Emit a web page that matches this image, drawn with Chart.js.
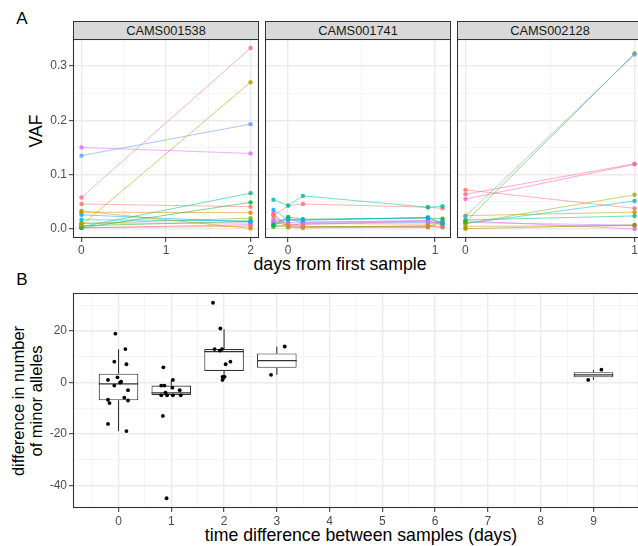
<!DOCTYPE html>
<html><head><meta charset="utf-8">
<script src="https://cdn.jsdelivr.net/npm/chart.js@4/dist/chart.umd.min.js"></script>
<style>
html,body{margin:0;padding:0;width:638px;height:546px;overflow:hidden;background:#fff;font-family:"Liberation Sans",Arial,sans-serif;}
body{position:relative;}
canvas{position:absolute;}
.t{position:absolute;white-space:nowrap;line-height:1;transform:translate(-50%,-50%);color:#000;}
.rot{transform:translate(-50%,-50%) rotate(-90deg);text-align:center;}
.strip{position:absolute;top:21px;height:19px;background:#D9D9D9;border:1px solid #333;box-sizing:border-box;font-size:12.8px;line-height:17px;text-align:center;color:#1a1a1a;}
</style></head>
<body>
<div class="t" style="left:22px;top:18px;font-size:17px;">A</div>
<div class="t" style="left:22px;top:279px;font-size:17px;">B</div>
<div class="t rot" style="left:37px;top:131px;font-size:17.5px;">VAF</div>
<div class="t" style="left:340px;top:265px;font-size:17.7px;">days from first sample</div>
<div class="t rot" style="left:27px;top:401px;font-size:16.5px;line-height:18px;">difference in number<br>of minor alleles</div>
<div class="t" style="left:361px;top:536px;font-size:17.7px;">time difference between samples (days)</div>

<div class="strip" id="s1" style="left:73px;width:186px;"></div>
<div class="strip" id="s2" style="left:265px;width:186px;"></div>
<div class="strip" id="s3" style="left:457px;width:186px;"></div>

<canvas id="a1" width="259" height="222" style="left:0px;top:39px;"></canvas>
<canvas id="a2" width="186" height="222" style="left:265px;top:39px;"></canvas>
<canvas id="a3" width="186" height="222" style="left:457px;top:39px;"></canvas>
<canvas id="b" width="639" height="240" style="left:0px;top:293px;"></canvas>

<script>
// ---------------- Panel A data ----------------
const facetNames = ["CAMS001538", "CAMS001741", "CAMS002128"];

const f1Days = [0, 2];
const f1Vaf = [
  [0.058, 0.333],
  [0.007, 0.270],
  [0.135, 0.193],
  [0.150, 0.139],
  [0.004, 0.066],
  [0.002, 0.049],
  [0.046, 0.041],
  [0.031, 0.030],
  [0.033, 0.001],
  [0.026, 0.013],
  [0.017, 0.015],
  [0.010, 0.020],
  [0.002, 0.008],
  [0.0024, 0.005],
  [0.0105, 0.011],
  [0.006, 0.014]
];
const f1Colors = ["#FF6C91","#ABA300","#619CFF","#E76BF3","#00C08B","#00BA38","#F8766D","#E18A00",
  "#BE9C00","#00B0F6","#00C1A7","#8CAB00","#FF62BC","#EF7F49","#B983FF","#24B700"];

const f2Days = [-0.1, 0, 0.1, 0.95, 1.05];
const f2Vaf = [
  [0.054, 0.043, 0.061, 0.040, 0.042],
  [0.025, 0.043, 0.046, 0.040, 0.038],
  [0.035, 0.017, 0.017, 0.021, 0.011],
  [0.008, 0.022, 0.018, 0.020, 0.019],
  [0.006, 0.018, 0.016, 0.021, 0.009],
  [0.012, 0.017, 0.013, 0.014, 0.011],
  [0.015, 0.019, 0.012, 0.016, 0.013],
  [0.020, 0.009, 0.008, 0.015, 0.008],
  [0.014, 0.006, 0.010, 0.009, 0.014],
  [0.026, 0.003, 0.002, 0.004, 0.004],
  [0.006, 0.004, 0.003, 0.006, 0.008],
  [0.004, 0.008, 0.005, 0.003, 0.015],
  [0.028, 0.004, 0.004, 0.005, 0.003],
  [0.010, 0.012, 0.011, 0.012, 0.010]
];
const f2Colors = ["#00C1A7","#F8766D","#00B0F6","#00BA38","#00BFC4","#B983FF","#E76BF3","#FF6C91",
  "#D39200","#EA8331","#93AA00","#5EB300","#FD61D1","#619CFF"];

const f3Days = [0, 1];
const f3Vaf = [
  [0.023, 0.321],
  [0.013, 0.323],
  [0.072, 0.038],
  [0.064, 0.120],
  [0.055, 0.119],
  [0.010, 0.063],
  [0.010, 0.0515],
  [0.0245, 0.031],
  [0.0166, 0.024],
  [0.0006, 0.0074],
  [0.015, 0.000],
  [0.012, 0.007],
  [0.005, 0.006]
];
const f3Colors = ["#619CFF","#39B600","#F8766D","#FF6C91","#FF61C3","#9BAF00","#00BCD8","#B5A000",
  "#00C08B","#9C8A00","#E76BF3","#B983FF","#D39200"];

const vafTicks = [0, 0.1, 0.2, 0.3];

// ---------------- Panel B data ----------------
const diffDays = [0, 1, 2, 3, 9];
const boxQ1  = [-6.9, -4.9, 4.5, 5.7, 2.0];
const boxMed = [-0.5, -4.0, 12.0, 8.5, 3.0];
const boxQ3  = [3.4, -1.2, 13.0, 11.3, 4.0];
const whiskLo = [-18.9, -5.0, 1.0, 3.0, 1.0];
const whiskHi = [12.9, 1.0, 20.7, 14.0, 5.0];

const ptsX = [
  -0.06, 0.13, -0.08, 0.15, -0.2, -0.02, 0.05, 0.03, -0.08, 0.18, 0.11, -0.2, -0.17, 0.18, -0.2, 0.15,
  0.85, 1.03, 0.81, 0.87, 1.02, 1.16, 0.89, 0.81, 0.92, 1.03, 1.18, 0.84, 0.91,
  1.79, 1.93, 1.82, 1.92, 1.96, 2.12, 2.03, 1.97, 2.01, 1.97,
  2.89, 3.15,
  8.9, 9.15
];
const ptsY = [
  19.0, 13.0, 8.1, 7.1, 1.0, 2.0, 0.3, 0.0, -1.2, -3.0, -5.9, -6.7, -8.0, -7.0, -16.1, -18.9,
  5.9, 1.0, -1.2, -1.2, -2.0, -3.0, -3.9, -5.0, -5.0, -5.0, -5.0, -13.0, -45.0,
  31.0, 21.0, 13.0, 12.4, 13.0, 8.1, 7.1, 2.2, 2.2, 1.0,
  3.0, 14.0,
  1.0, 5.0
];
const diffTicks = [-40, -20, 0, 20];

// ---------------- helpers ----------------
Chart.defaults.font.family = "'Liberation Sans', Arial, sans-serif";
Chart.defaults.animation = false;

function alpha(hex, a) {
  const n = parseInt(hex.slice(1), 16);
  return `rgba(${(n >> 16) & 255},${(n >> 8) & 255},${n & 255},${a})`;
}
const near = (v, step) => Math.abs(v / step - Math.round(v / step)) < 1e-6;

const frame = {
  id: 'frame',
  afterDatasetsDraw(chart) {
    const { ctx, chartArea: a } = chart;
    ctx.save();
    ctx.strokeStyle = '#333333';
    ctx.lineWidth = 1.1;
    ctx.strokeRect(Math.round(a.left) + 0.5, Math.round(a.top) + 0.5,
      Math.round(a.right - a.left) - 1, Math.round(a.bottom - a.top) - 1);
    ctx.restore();
  }
};

function gridCfg(majorStep, drawTicks) {
  return {
    color: c => (c.tick && near(c.tick.value, majorStep)) ? '#EBEBEB' : '#F3F3F3',
    lineWidth: c => (c.tick && near(c.tick.value, majorStep)) ? 1.4 : 0.9,
    tickColor: c => (c.tick && near(c.tick.value, majorStep)) ? '#333333' : 'rgba(0,0,0,0)',
    tickLength: 4,
    tickWidth: 1,
    drawTicks: drawTicks
  };
}

function facetChart(id, days, vafs, colors, xmin, xmax, showY) {
  const datasets = vafs.map((vals, i) => ({
    data: days.map((d, j) => ({ x: d, y: vals[j] })),
    borderColor: alpha(colors[i], 0.55),
    backgroundColor: alpha(colors[i], 0.85),
    pointBackgroundColor: alpha(colors[i], 0.85),
    borderWidth: 1,
    pointRadius: 2.2,
    pointBorderWidth: 0,
    tension: 0
  }));
  new Chart(document.getElementById(id), {
    type: 'line',
    data: { datasets },
    plugins: [frame],
    options: {
      responsive: false,
      animation: false,
      layout: { padding: 0, autoPadding: false },
      plugins: { legend: { display: false }, tooltip: { enabled: false } },
      scales: {
        x: {
          type: 'linear', min: xmin, max: xmax,
          grid: gridCfg(1, true),
          border: { display: false },
          ticks: {
            stepSize: 0.5, includeBounds: false, autoSkip: false, maxRotation: 0,
            padding: 1, color: '#4D4D4D', font: { size: 12 },
            callback: v => near(v, 1) ? String(Math.round(v)) : ''
          },
          afterFit(s) { s.height = 23; s.paddingLeft = 0; s.paddingRight = 0; }
        },
        y: {
          type: 'linear', min: -0.0166, max: 0.3497,
          grid: gridCfg(0.1, showY),
          border: { display: false },
          ticks: {
            display: showY,
            stepSize: 0.05, includeBounds: false, autoSkip: false,
            padding: 2, color: '#4D4D4D', font: { size: 12 },
            callback: v => vafTicks.some(t => Math.abs(t - v) < 1e-6) ? v.toFixed(1) : ''
          },
          afterFit(s) { s.width = showY ? 73 : 0; s.paddingTop = 0; s.paddingBottom = 0; }
        }
      }
    }
  });
}

// strips
['s1', 's2', 's3'].forEach((id, i) => { document.getElementById(id).textContent = facetNames[i]; });

facetChart('a1', f1Days, f1Vaf, f1Colors, -0.1, 2.1, true);
facetChart('a2', f2Days, f2Vaf, f2Colors, -0.1575, 1.1075, false);
facetChart('a3', f3Days, f3Vaf, f3Colors, -0.05, 1.05, false);

// ---------------- Panel B ----------------
const boxHalf = 0.375;
const whiskerData = [];
const medianData = [];
diffDays.forEach((d, i) => {
  whiskerData.push({ x: d, y: boxQ3[i] }, { x: d, y: whiskHi[i] }, { x: d, y: null },
                   { x: d, y: boxQ1[i] }, { x: d, y: whiskLo[i] }, { x: d, y: null });
  medianData.push({ x: d - boxHalf, y: boxMed[i] }, { x: d + boxHalf, y: boxMed[i] }, { x: d, y: null });
});

new Chart(document.getElementById('b'), {
  type: 'bar',
  data: {
    datasets: [
      {
        type: 'scatter', order: 0,
        data: ptsX.map((x, i) => ({ x, y: ptsY[i] })),
        backgroundColor: '#000', pointRadius: 1.9, pointBorderWidth: 0
      },
      {
        type: 'line', order: 1, data: medianData, spanGaps: false,
        borderColor: '#333333', borderWidth: 1.3, pointRadius: 0
      },
      {
        type: 'line', order: 2, data: whiskerData, spanGaps: false,
        borderColor: '#333333', borderWidth: 1.1, pointRadius: 0
      },
      {
        type: 'bar', order: 3,
        data: diffDays.map((d, i) => ({ x: d, y: [boxQ1[i], boxQ3[i]] })),
        backgroundColor: '#ffffff', borderColor: '#333333', borderWidth: 1.1,
        borderSkipped: false, categoryPercentage: 1, barPercentage: 1.5
      }
    ]
  },
  plugins: [frame],
  options: {
    responsive: false,
    animation: false,
    layout: { padding: 0, autoPadding: false },
    plugins: { legend: { display: false }, tooltip: { enabled: false } },
    scales: {
      x: {
        type: 'linear', min: -0.8625, max: 9.8625, offset: false,
        grid: Object.assign(gridCfg(1, true), { offset: false }),
        border: { display: false },
        ticks: {
          stepSize: 0.5, includeBounds: false, autoSkip: false, maxRotation: 0,
          padding: 2, color: '#4D4D4D', font: { size: 12 },
          callback: v => near(v, 1) ? String(Math.round(v)) : ''
        },
        afterFit(s) { s.height = 25; s.paddingLeft = 0; s.paddingRight = 0; }
      },
      y: {
        type: 'linear', min: -48.8, max: 34.8,
        grid: gridCfg(20, true),
        border: { display: false },
        ticks: {
          stepSize: 10, includeBounds: false, autoSkip: false,
          padding: 2, color: '#4D4D4D', font: { size: 12 },
          callback: v => diffTicks.includes(Math.round(v)) && near(v, 20) ? String(Math.round(v)) : ''
        },
        afterFit(s) { s.width = 73; s.paddingTop = 0; s.paddingBottom = 0; }
      }
    }
  }
});
</script>
</body></html>
